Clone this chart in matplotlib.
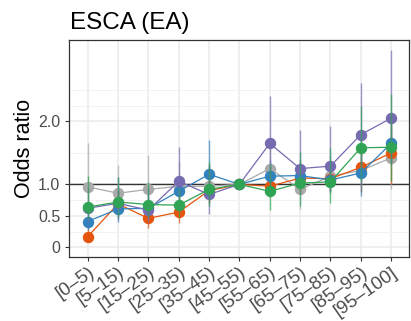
import numpy as np
import matplotlib.pyplot as plt

plt.rcParams['font.family'] = ['Liberation Sans', 'DejaVu Sans']

# percentile bins
cats = ["[0–5)", "[5–15)", "[15–25)", "[25–35)", "[35–45)", "[45–55)",
        "[55–65)", "[65–75)", "[75–85)", "[85–95)", "[95–100]"]
nan = np.nan

# odds ratios per series
gray = [0.96, 0.86, 0.92, 0.97, 0.97, 1.0, 1.25, 0.92, 1.13, 1.22, 1.42]
orange = [0.17, 0.69, 0.46, 0.56, 0.90, 1.0, 0.97, 1.10, 1.09, 1.27, 1.50]
blue = [0.41, 0.61, 0.62, 0.89, 1.16, 1.0, 1.13, 1.14, 1.07, 1.18, 1.65]
purple = [0.62, 0.70, 0.59, 1.05, 0.84, 1.0, 1.65, 1.25, 1.29, 1.79, 2.05]
green = [0.64, 0.72, 0.68, 0.67, 0.92, 1.0, 0.89, 1.02, 1.04, 1.58, 1.59]

# confidence intervals
gray_lo = [0.55, 0.55, 0.58, 0.65, 0.70, nan, 0.95, 0.61, 0.85, 0.90, 0.92]
gray_hi = [1.66, 1.30, 1.46, 1.35, 1.30, nan, 1.60, 1.30, 1.45, 1.60, 1.90]
orange_lo = [0.08, 0.50, 0.30, 0.38, 0.70, nan, 0.80, 0.90, 0.90, 0.88, 1.01]
orange_hi = [0.35, 0.90, 0.65, 0.78, 1.10, nan, 1.18, 1.30, 1.30, 1.65, 2.00]
blue_lo = [0.28, 0.40, 0.45, 0.70, 0.90, nan, 0.92, 0.95, 0.88, 0.81, 1.30]
blue_hi = [0.60, 0.90, 0.85, 1.10, 1.70, nan, 1.38, 1.38, 1.30, 1.70, 2.10]
purple_lo = [0.40, 0.45, 0.40, 0.72, 0.53, nan, 1.10, 0.85, 0.90, 1.20, 1.35]
purple_hi = [0.95, 1.12, 0.95, 1.60, 1.30, nan, 2.41, 1.86, 1.92, 2.61, 3.14]
green_lo = [0.45, 0.48, 0.48, 0.48, 0.65, nan, 0.60, 0.65, 0.70, 1.05, 1.05]
green_hi = [1.14, 1.12, 1.04, 0.95, 1.35, nan, 1.33, 1.51, 1.57, 2.25, 2.44]

series = [
    (gray, gray_lo, gray_hi, "#AAAAAA"),
    (orange, orange_lo, orange_hi, "#E6550D"),
    (blue, blue_lo, blue_hi, "#3182BD"),
    (purple, purple_lo, purple_hi, "#756BB1"),
    (green, green_lo, green_hi, "#31A354"),
]

fig = plt.figure(figsize=(4.11, 3.21), dpi=100)
ax = fig.add_axes([0.169, 0.2, 0.827, 0.675])

x = np.arange(len(cats))
for y, lo, hi, col in series:
    ax.vlines(x, lo, hi, color=col, lw=1, alpha=0.7, zorder=3)
    ax.plot(x, y, color=col, lw=0.9, marker='o', ms=7.2, zorder=3)

ax.axhline(1.0, color="#333333", lw=1, zorder=2)

ax.set_xlim(-0.6, 10.6)
ax.set_ylim(-0.15, 3.29)
ax.set_yticks([0, 0.5, 1.0, 2.0])
ax.set_yticklabels(["0", "0.5", "1.0", "2.0"])
ax.set_yticks([0.25, 0.75, 1.5, 2.25, 2.5], minor=True)
ax.set_xticks(x)
ax.set_xticklabels(cats, rotation=35, ha='right', va='top', rotation_mode='anchor')

ax.grid(True, which='major', color="#EBEBEB", lw=1.1, zorder=0)
ax.grid(True, which='minor', axis='y', color="#F2F2F2", lw=0.7, zorder=0)
ax.set_axisbelow(True)
ax.tick_params(axis='both', which='major', labelsize=11.5, labelcolor="#4D4D4D",
               color="#333333", length=3, width=0.8)
ax.tick_params(axis='x', which='major', labelsize=13.5, pad=2)
ax.tick_params(axis='y', which='minor', length=0)
for s in ax.spines.values():
    s.set_color("#333333")
    s.set_linewidth(0.9)

ax.set_ylabel("Odds ratio", fontsize=15.5, labelpad=2)
fig.text(0.17, 0.91, "ESCA (EA)", fontsize=17.5, ha='left', va='baseline')

fig.savefig("out.png", dpi=100)
